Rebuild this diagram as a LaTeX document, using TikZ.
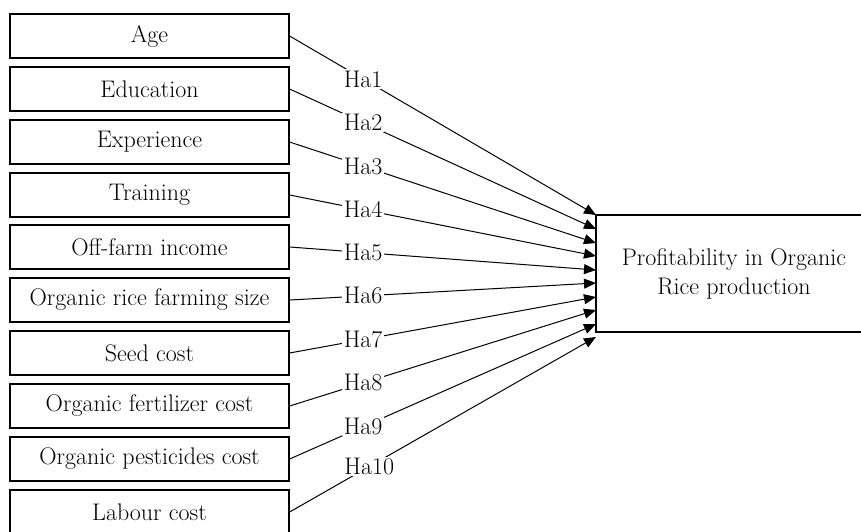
\documentclass[tikz,border=0pt]{standalone}
\usetikzlibrary{arrows.meta}
\begin{document}
\begin{tikzpicture}[x=1pt, y=-1pt,
    var/.style={draw, rectangle, line width=1.2pt, minimum width=279pt, minimum height=44pt, inner sep=0pt, font=\fontsize{24}{28}\selectfont},
    hyp/.style={fill=white, inner sep=1.5pt, font=\fontsize{24}{28}\selectfont},
    link/.style={-{Triangle[length=12pt, width=10pt]}, line width=1pt}]
    \useasboundingbox (0,0) rectangle (861,531);
    % determinants
    \node[var] (age) at (149.5,36) {Age};
    \node[var] (edu) at (149.5,89) {Education};
    \node[var] (exp) at (149.5,142) {Experience};
    \node[var] (train) at (149.5,195) {Training};
    \node[var] (income) at (149.5,247) {Off-farm income};
    \node[var] (size) at (149.5,300) {Organic rice farming size};
    \node[var] (seed) at (149.5,353) {Seed cost};
    \node[var] (fert) at (149.5,406) {Organic fertilizer cost};
    \node[var] (pest) at (149.5,459) {Organic pesticides cost};
    \node[var] (labour) at (149.5,512) {Labour cost};
    % outcome
    \node[draw, rectangle, line width=1.2pt, minimum width=276pt, minimum height=117pt, align=center, font=\fontsize{24}{29}\selectfont] (profit) at (734,273.5) {Profitability in Organic\\Rice production};

    \coordinate (t1) at (596,215);
    \coordinate (t2) at (596,229);
    \coordinate (t3) at (596,243);
    \coordinate (t4) at (596,256);
    \coordinate (t5) at (596,270);
    \coordinate (t6) at (596,283);
    \coordinate (t7) at (596,297);
    \coordinate (t8) at (596,310);
    \coordinate (t9) at (596,324);
    \coordinate (t10) at (596,337);

    \draw[link] (age.east) -- node[hyp, pos=0.24] {Ha1} (t1);
    \draw[link] (edu.east) -- node[hyp, pos=0.24] {Ha2} (t2);
    \draw[link] (exp.east) -- node[hyp, pos=0.24] {Ha3} (t3);
    \draw[link] (train.east) -- node[hyp, pos=0.24] {Ha4} (t4);
    \draw[link] (income.east) -- node[hyp, pos=0.24] {Ha5} (t5);
    \draw[link] (size.east) -- node[hyp, pos=0.24] {Ha6} (t6);
    \draw[link] (seed.east) -- node[hyp, pos=0.24] {Ha7} (t7);
    \draw[link] (fert.east) -- node[hyp, pos=0.24] {Ha8} (t8);
    \draw[link] (pest.east) -- node[hyp, pos=0.24] {Ha9} (t9);
    \draw[link] (labour.east) -- node[hyp, pos=0.26] {Ha10} (t10);
\end{tikzpicture}
\end{document}
